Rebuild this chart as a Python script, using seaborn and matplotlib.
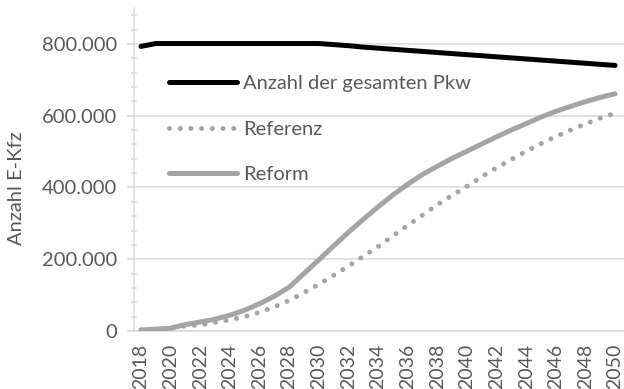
import matplotlib
matplotlib.use("Agg")
import matplotlib.pyplot as plt
from matplotlib.ticker import FuncFormatter, MultipleLocator
import seaborn as sns
import pandas as pd

years = list(range(2018, 2051))

# Gesamtbestand Pkw
pkw_gesamt = [793000, 801000, 801000, 801000, 801000, 801000, 801000, 801000,
              801000, 801000, 801000, 801000, 801000, 798000, 795000, 791000,
              788000, 785000, 782000, 779000, 776000, 773000, 770000, 767000,
              764000, 761000, 758000, 755000, 752000, 749000, 746000, 743000,
              740000]

# E-Kfz im Referenzszenario
referenz = [3000, 5000, 8000, 14000, 17000, 24000, 31000, 40000, 52000, 67000,
            85000, 107000, 130000, 155000, 181000, 208000, 235000, 265000,
            294000, 323000, 352000, 378000, 403000, 430000, 455000, 478000,
            501000, 522000, 542000, 560000, 577000, 593000, 607000]

# E-Kfz im Reformszenario
reform = [3000, 5000, 8000, 18000, 25000, 33000, 44000, 58000, 76000, 97000,
          122000, 160000, 198000, 237000, 275000, 311000, 346000, 379000,
          409000, 436000, 459000, 481000, 501000, 521000, 541000, 560000,
          578000, 596000, 612000, 626000, 639000, 651000, 661000]

series_labels = ["Anzahl der gesamten Pkw", "Referenz", "Reform"]
x_ticks = list(range(2018, 2051, 2))
y_ticks = [0, 200000, 400000, 600000, 800000]

df = pd.DataFrame({"Jahr": years, "gesamt": pkw_gesamt,
                   "referenz": referenz, "reform": reform})

sns.set_theme(style="white")
plt.rcParams["font.family"] = ["Lato", "DejaVu Sans"]

text_color = "#595959"
grid_color = "#D9D9D9"
gray = "#A5A5A5"

fig = plt.figure(figsize=(6.24, 3.89), dpi=100)
ax = fig.add_axes([134 / 624, 1 - 331 / 389, 1 - 134 / 624, (331 - 8) / 389])

sns.lineplot(data=df, x="Jahr", y="gesamt", ax=ax, color="black", lw=3.6,
             label=series_labels[0], zorder=4)
sns.lineplot(data=df, x="Jahr", y="referenz", ax=ax, color=gray, lw=3.6,
             label=series_labels[1], zorder=3)
sns.lineplot(data=df, x="Jahr", y="reform", ax=ax, color=gray, lw=3.6,
             label=series_labels[2], zorder=3)

lines = ax.get_lines()
for ln in lines:
    ln.set_solid_capstyle("round")
    ln.set_solid_joinstyle("round")
lines[1].set_dashes((0.01, 2.13))
lines[1].set_dash_capstyle("round")

ax.set_xlim(2017.53, 2050.6)
ax.set_ylim(0, 900000)

ax.set_yticks(y_ticks)
ax.yaxis.set_minor_locator(MultipleLocator(40000))
ax.yaxis.set_major_formatter(FuncFormatter(lambda v, p: f"{int(v):,}".replace(",", ".")))
ax.set_xticks(x_ticks)
ax.set_xticklabels([str(y) for y in x_ticks], rotation=90)

ax.grid(axis="y", color=grid_color, lw=1.1, zorder=0)
ax.set_axisbelow(True)

for side in ["top", "right"]:
    ax.spines[side].set_visible(False)
for side in ["left", "bottom"]:
    ax.spines[side].set_color(grid_color)
    ax.spines[side].set_linewidth(1.1)

ax.tick_params(axis="y", which="major", direction="out", length=5, width=1.1,
               color=grid_color, labelsize=14.5, labelcolor=text_color, pad=7, left=True)
ax.tick_params(axis="y", which="minor", direction="inout", length=4, width=1.1,
               color=grid_color, left=True)
ax.tick_params(axis="x", which="major", length=0, labelsize=14,
               labelcolor=text_color, pad=9)

ax.set_xlabel("")
ax.set_ylabel("Anzahl E-Kfz", fontsize=14.5, color=text_color)
ax.yaxis.set_label_coords(-0.222, 0.443)

handles, labels = ax.get_legend_handles_labels()
leg = ax.legend(handles, labels, loc="upper left", bbox_to_anchor=(0.071, 0.793),
                frameon=False, fontsize=14.5, handlelength=3.4, handletextpad=0.3,
                labelspacing=1.42, borderpad=0, borderaxespad=0)
for t in leg.get_texts():
    t.set_color(text_color)

fig.savefig("out.png", dpi=100)
